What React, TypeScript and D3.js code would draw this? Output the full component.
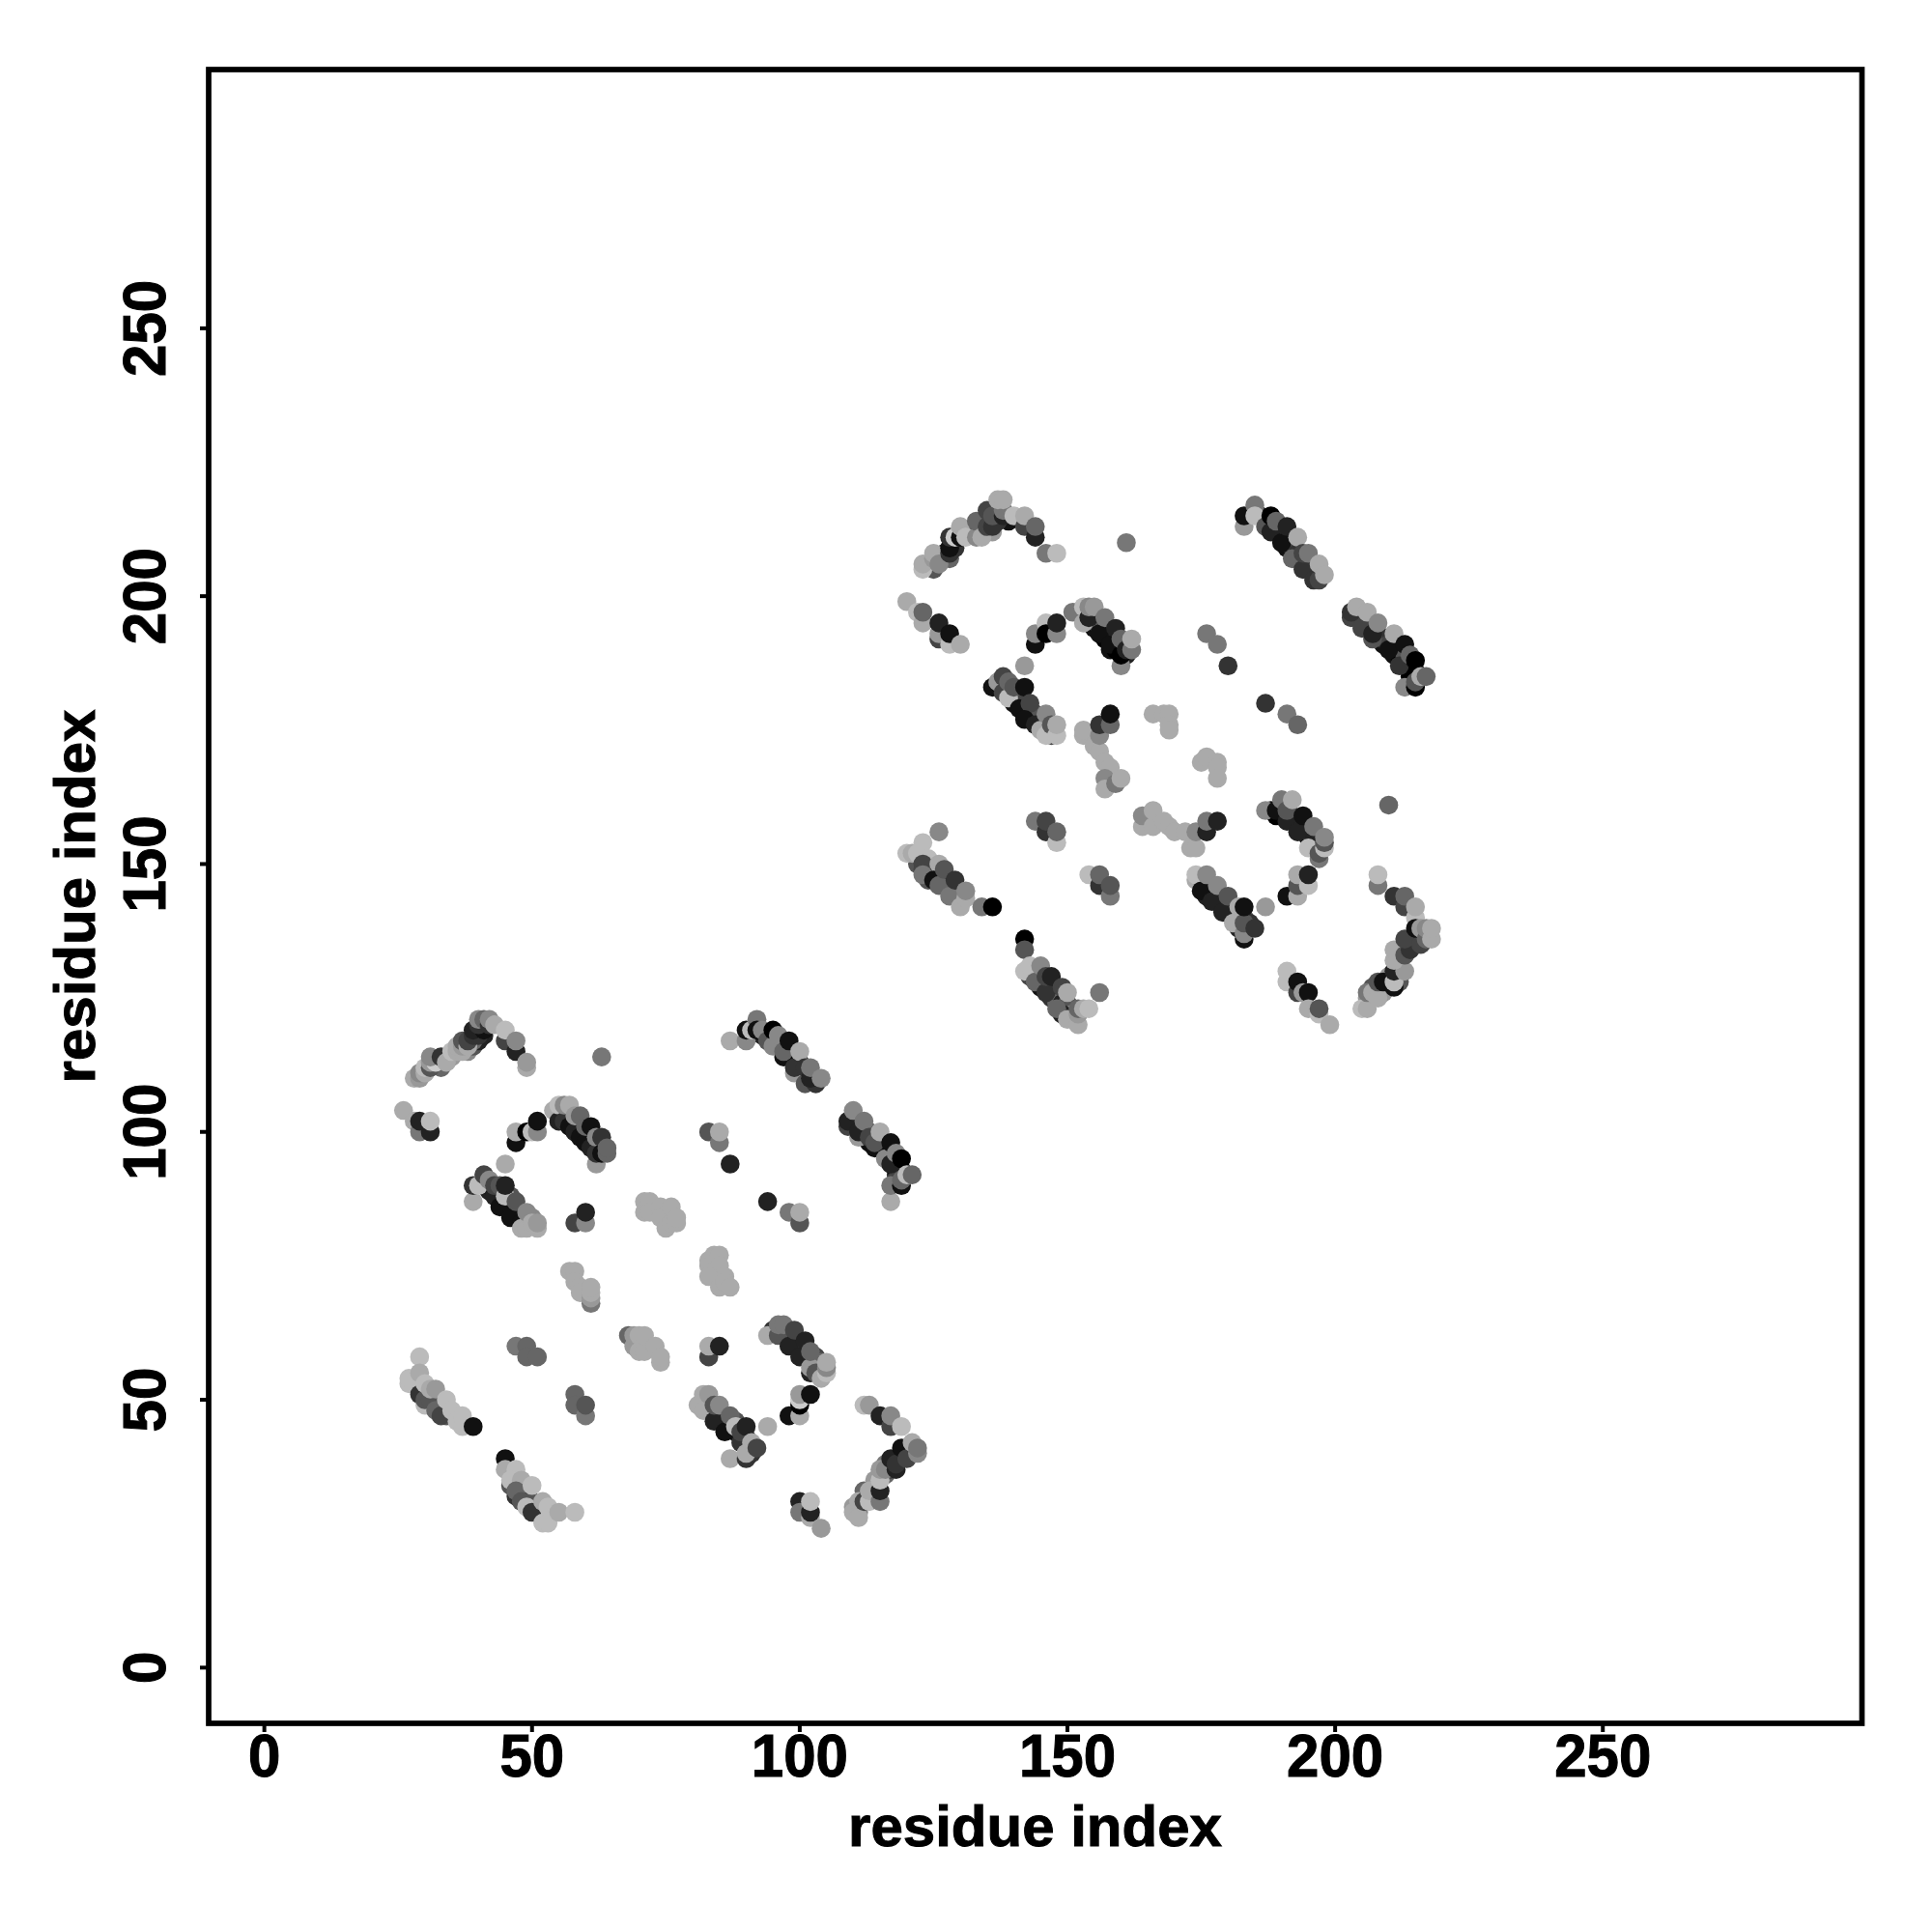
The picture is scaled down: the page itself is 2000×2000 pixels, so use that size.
import React from 'react';
import * as d3 from 'd3';

// [residue i, residue j, shade level (0 = black .. 15 = white)]
type P = [number, number, number];

// lower layer: contacts along the strand diagonals, later contacts overlap them
const underA1: P[] = [[56,103,3],[57,102,2],[58,101,1],[59,100,1],[60,99,0],[61,98,0],[62,97,1],[63,97,3],[58,102,5],[60,100,5],[62,98,4]];
const underA2: P[] = [[41,90,3],[42,89,2],[43,89,1],[44,88,1],[45,87,0],[46,86,0],[47,85,0],[48,84,0],[49,83,1],[44,89,4],[46,88,5],[46,87,3],[48,85,4],[49,84,5],[50,84,8]];
const underA3: P[] = [[93,118,2],[94,118,1],[95,117,1],[96,116,0],[97,116,1],[98,114,0],[99,113,0],[100,112,1],[100,113,4],[101,111,2],[102,111,3],[103,110,2],[96,117,5],[98,115,5]];
const underA4: P[] = [[110,102,2],[110,101,3],[111,101,4],[112,100,1],[113,100,5],[113,98,1],[114,99,3],[115,97,1],[115,98,3],[116,96,0],[117,95,0],[116,97,5],[118,94,1],[118,92,3],[118,93,1],[119,93,2],[118,91,4]];
const underA5: P[] = [[30,51,4],[31,49,2],[31,51,6],[32,50,5],[32,49,4],[33,49,5],[33,48,6],[34,47,5]];
const underA6: P[] = [[46,34,5],[47,34,4],[47,32,3],[48,33,5],[49,32,4],[49,31,3],[50,30,3],[50,31,5]];
const underA7: P[] = [[95,63,3],[97,62,2],[97,63,6],[98,62,5],[99,60,1],[99,61,3],[100,60,4],[101,59,1],[102,58,1],[101,60,5],[103,57,2],[103,58,4],[104,56,3],[104,57,6]];
const underA8: P[] = [[82,50,4],[83,49,3],[83,50,5],[84,48,1],[85,47,1],[85,48,6],[86,46,1],[87,45,1],[86,47,4],[88,44,1],[89,43,1],[88,46,5],[90,42,2],[90,43,3],[91,41,1],[91,40,3],[89,42,3]];
const underArcA: P[] = [[33,112,6],[35,114,9],[38,115,8],[39,116,5],[40,117,2],[41,118,2],[41,120,1],[39,117,6],[40,119,3]];
const underHookA: P[] = [[116,36,6],[117,37,4],[118,39,3],[119,39,2],[120,40,3],[120,41,2],[114,34,10],[114,35,9],[112,32,6],[112,33,6],[113,32,8],[116,38,7],[117,38,3],[110,30,9],[111,30,7],[111,29,8]];
const underB1: P[] = [[152,197,4],[153,196,3],[154,195,2],[155,194,1],[156,194,5],[157,192,0],[158,192,5],[158,190,1],[159,190,0],[159,191,1],[160,190,3],[155,196,5],[161,189,2]];
const underB2: P[] = [[137,183,4],[138,183,3],[139,182,2],[140,181,2],[140,180,1],[141,181,5],[142,179,1],[142,178,0],[143,178,1],[143,177,2],[144,177,3],[144,178,5],[145,176,1],[146,176,5],[146,175,3],[147,174,4],[141,182,4]];
const underB3: P[] = [[186,215,3],[187,214,2],[188,214,1],[189,212,1],[189,213,3],[190,212,5],[191,210,0],[191,209,1],[192,209,2],[192,210,4],[193,208,3],[193,207,1],[194,207,4],[195,206,2],[195,205,3],[196,205,4],[196,204,3],[197,204,4]];
const underB4: P[] = [[204,196,3],[204,197,4],[205,195,2],[205,196,5],[206,195,3],[206,194,4],[207,194,6],[208,192,1],[208,193,2],[209,191,1],[209,192,3],[210,191,4],[211,189,1],[211,190,0],[212,189,0],[213,188,2],[213,189,5],[214,186,0],[214,187,1],[215,186,3],[214,185,0],[215,185,0]];
const underB5: P[] = [[122,150,5],[123,149,4],[124,149,6],[124,147,5],[125,148,1],[126,148,4],[126,147,2],[127,146,4],[128,146,1],[128,145,5],[129,145,4],[129,146,6]];
const underB6: P[] = [[143,129,4],[144,129,2],[145,128,3],[145,127,1],[146,127,0],[147,127,3],[147,125,3],[147,126,1],[148,125,1],[148,124,6],[149,124,2],[150,123,3],[150,124,5],[151,122,8]];
const underB7: P[] = [[175,146,3],[176,145,1],[176,144,2],[177,145,4],[178,143,1],[178,144,1],[179,142,1],[180,142,1],[180,141,2],[181,141,1],[182,140,1],[182,139,0],[183,140,5],[184,138,0],[184,139,3],[182,138,2],[181,140,4]];
const underB8: P[] = [[188,160,1],[189,159,0],[190,159,0],[190,160,3],[191,159,1],[192,158,0],[192,159,5],[193,157,1],[193,158,4],[194,156,1],[194,157,5],[195,155,1],[195,156,4],[196,155,2],[197,154,3],[197,155,5],[197,153,6],[196,153,9]];
const underArcB: P[] = [[124,206,5],[125,205,5],[126,207,4],[127,208,2],[127,207,5],[128,207,6],[129,209,3],[132,212,6],[133,212,5],[134,213,7],[134,214,4],[135,214,3],[136,214,2],[137,215,3],[137,216,4],[139,214,1],[135,212,8],[136,212,9],[137,214,3]];
const underHookB: P[] = [[212,131,3],[212,132,6],[212,134,4],[213,134,3],[214,136,2],[214,135,4],[215,135,3],[215,136,3],[216,137,5],[215,137,1],[209,127,7],[210,127,3],[210,128,2],[210,129,9],[212,129,8],[207,125,8],[207,127,5],[206,125,9],[208,126,8],[209,126,9],[212,128,5],[212,130,9]];

const arcA: P[] = [[28,110,10],[29,110,9],[29,111,8],[30,111,10],[30,112,11],[31,112,5],[31,113,9],[32,113,12],[31,114,8],[33,114,3],[34,113,10],[35,115,11],[36,115,10],[37,115,10],[36,116,10],[37,116,9],[37,117,5],[38,116,10],[38,117,4],[39,118,3],[40,118,3],[39,119,2],[41,119,1],[40,120,3],[40,121,8],[41,121,6],[42,120,3],[42,121,8],[43,120,10],[45,117,4],[45,119,11],[47,115,2],[47,117,8],[49,112,10],[49,113,9],[63,114,7]];
const nodeA: P[] = [[26,104,10],[28,102,10],[29,100,7],[31,100,2],[29,102,2],[31,102,11],[47,98,1],[47,100,10],[49,100,0],[50,100,11],[51,100,8],[51,102,1]];
const strandA1: P[] = [[54,104,10],[55,102,2],[55,105,11],[56,102,3],[56,105,8],[57,101,1],[57,105,10],[58,100,2],[58,103,9],[59,99,1],[59,103,6],[60,98,1],[60,101,6],[61,97,2],[61,101,1],[62,94,9],[62,96,3],[62,99,8],[63,96,1],[63,99,3],[64,96,6],[64,97,6]];
const strandA2: P[] = [[45,94,10],[39,87,10],[39,90,3],[40,90,11],[41,92,4],[42,91,8],[43,88,2],[43,90,4],[44,86,1],[44,90,5],[45,88,11],[45,90,2],[46,84,1],[47,87,5],[48,83,1],[48,82,10],[49,82,10],[49,85,8],[50,83,10],[51,82,10],[51,83,9],[58,83,4],[60,83,8],[60,85,2]];
const lightA: P[] = [[71,85,10],[71,87,10],[72,87,10],[72,85,10],[74,86,10],[74,84,10],[75,82,10],[76,86,10],[76,83,10],[77,83,10],[77,84,10],[83,75,10],[83,76,10],[84,77,10],[85,77,10],[85,75,10],[86,73,10],[83,73,10],[85,71,10],[86,72,10],[87,71,10],[57,74,10],[58,74,10],[58,72,10],[59,71,10],[59,70,10],[61,68,7],[61,69,9],[61,70,10],[61,71,10]];
const strandA3: P[] = [[87,117,10],[90,117,8],[90,119,1],[91,119,11],[92,121,7],[92,119,1],[93,119,8],[94,117,5],[95,116,8],[95,119,0],[96,118,8],[97,114,1],[97,115,6],[98,117,1],[99,111,9],[99,112,3],[100,115,10],[101,109,5],[101,112,3],[103,109,3],[102,110,2],[102,112,7],[104,110,8]];
const strandA4: P[] = [[109,101,4],[109,102,2],[110,104,8],[111,99,9],[111,100,2],[112,102,7],[113,99,4],[114,97,1],[114,98,5],[115,100,10],[116,95,8],[117,94,2],[117,98,1],[118,96,8],[117,87,10],[117,90,7],[119,90,1],[119,91,6],[119,95,0],[120,92,11],[121,92,6]];
const pairsA: P[] = [[83,100,5],[85,98,7],[85,100,10],[87,94,2],[94,87,2],[98,85,7],[100,83,5],[100,85,10]];
const blobsA: P[] = [[47,60,7],[49,60,6],[49,58,6],[51,58,6],[58,51,6],[58,49,6],[60,47,7],[60,49,5],[68,62,6],[69,60,9],[69,62,9],[70,59,10],[70,62,10],[71,59,10],[71,62,10],[73,60,10],[74,57,10],[74,58,10],[83,58,4],[83,60,10],[85,60,2]];
const strandA5: P[] = [[29,58,11],[27,53,11],[27,54,11],[29,51,3],[29,55,10],[30,49,11],[30,50,5],[31,50,5],[30,53,11],[31,52,10],[32,48,6],[32,52,9],[33,47,4],[34,50,11],[35,48,11],[36,46,11],[37,45,11],[37,47,11],[39,45,1]];
const strandA6: P[] = [[45,39,1],[45,37,10],[47,37,11],[46,35,11],[48,35,10],[47,33,6],[48,31,5],[50,34,11],[49,30,11],[50,29,3],[52,31,10],[52,27,11],[53,27,11],[53,30,11],[55,29,10],[58,29,11]];
const strandA7: P[] = [[94,62,10],[96,62,5],[96,64,7],[97,64,7],[98,60,2],[99,63,4],[100,58,2],[101,61,2],[102,55,2],[102,56,9],[103,55,5],[104,54,10],[102,59,6],[105,55,11],[105,56,8],[105,57,10],[98,47,1],[100,47,10],[100,49,0],[100,50,12],[100,51,9],[102,51,1]];
const strandA8: P[] = [[81,49,10],[82,48,10],[82,51,10],[83,51,9],[84,46,2],[84,49,5],[85,49,8],[86,44,1],[87,47,6],[87,39,10],[88,45,11],[89,44,4],[90,45,2],[90,39,3],[90,40,10],[91,42,10],[92,41,4],[94,45,10]];
const hookA: P[] = [[100,31,2],[100,29,7],[102,28,10],[102,29,2],[102,31,11],[104,26,9],[112,49,11],[113,49,9],[115,47,2],[117,45,4],[117,47,8],[119,45,11],[110,29,10],[111,28,10],[111,31,10],[112,31,4],[113,31,11],[113,33,10],[115,31,7],[115,33,2],[115,35,11],[115,37,9],[116,37,8],[117,39,2],[118,37,2],[118,38,3],[119,41,1],[120,39,4],[121,42,10],[122,40,8],[122,41,7]];

const arcB: P[] = [[123,205,11],[123,206,10],[125,207,9],[125,208,10],[126,206,8],[128,208,3],[128,209,1],[128,211,3],[129,211,12],[130,211,1],[130,213,10],[131,211,11],[133,211,8],[133,214,6],[134,211,10],[135,213,4],[136,213,3],[135,216,4],[136,215,5],[138,215,2],[138,216,7],[137,218,10],[138,218,10],[140,215,11],[142,213,4],[142,215,10],[144,211,2],[144,213,6],[146,208,7],[148,208,11],[161,210,7]];
const nodeB: P[] = [[120,199,10],[122,197,11],[123,195,10],[123,197,6],[126,192,4],[126,193,9],[126,195,2],[128,191,11],[128,193,1],[130,191,10],[144,191,1],[144,193,8],[146,195,11],[146,193,0],[148,193,8],[148,195,2]];
const strandB1: P[] = [[151,197,7],[153,195,10],[153,198,11],[154,196,2],[154,198,8],[155,198,9],[156,193,1],[157,196,7],[158,191,1],[159,194,2],[160,187,8],[160,189,0],[160,192,6],[161,190,2],[162,190,7],[162,192,10]];
const strandB2: P[] = [[142,187,9],[136,183,1],[137,184,9],[138,182,4],[138,185,4],[139,181,11],[139,184,6],[140,183,5],[141,179,1],[142,183,1],[143,180,4],[142,177,1],[144,176,2],[145,175,10],[146,174,11],[146,178,8],[147,176,5],[148,174,11],[148,176,10]];
const lightB: P[] = [[153,174,10],[153,175,10],[155,172,10],[156,171,10],[157,169,10],[158,168,10],[156,174,8],[156,176,3],[158,176,6],[158,178,1],[157,166,8],[157,164,10],[159,165,7],[160,166,10],[166,178,10],[168,178,10],[169,178,10],[169,176,10],[169,175,10],[175,169,10],[176,170,10],[178,169,10],[178,168,10],[178,166,10]];
const strandB3: P[] = [[183,213,9],[183,215,1],[185,217,7],[185,215,11],[187,213,5],[188,212,2],[188,215,0],[189,214,6],[190,210,1],[191,213,2],[193,211,10],[192,207,6],[194,205,3],[194,208,4],[195,208,7],[196,203,3],[197,203,4],[197,206,10],[198,204,10]];
const strandB4: P[] = [[203,196,4],[203,197,3],[204,198,10],[205,194,4],[206,197,10],[207,192,5],[207,193,2],[208,195,8],[210,190,1],[211,193,10],[212,187,3],[213,191,1],[214,189,6],[213,183,8],[215,183,0],[215,184,5],[215,188,0],[216,185,10],[217,185,6]];
const pairsB: P[] = [[176,193,7],[178,191,7],[180,187,3],[187,180,3],[191,178,7],[193,176,6]];
const strandB5: P[] = [[126,156,8],[120,152,11],[121,152,10],[122,152,11],[123,154,11],[124,151,11],[123,150,4],[123,148,7],[126,150,10],[125,147,1],[126,146,6],[127,149,5],[128,144,7],[129,147,3],[130,142,10],[131,143.6,10],[131,145,8],[134,142,7],[136,142,0]];
const strandB6: P[] = [[142,136,0],[142,134,5],[142,130,11],[143,131,11],[144,128,6],[145,131,8],[146,126,3],[146,129,4],[147,129,2],[149,122,2],[148,123,6],[149,127,4],[150,121,10],[150,126,10],[152,120,10],[152,122,9],[152,123,6],[153,123,10],[154,123,11],[156,126,7]];
const blobsB: P[] = [[144,158,7],[146,156,3],[146,158,4],[148,154,11],[148,156,6],[154,148,11],[156,146,3],[156,148,6],[158,144,7],[158,146,5],[164,157,10],[164,159,8],[166,157,10],[166,160,10],[168,158,10],[169,157,10],[170,156,10],[172,156,10],[173,153,10],[174,153,10],[174,156,8],[176,156,2],[176,158,7],[178,158,2]];
const strandB7: P[] = [[174,147,10],[174,148,11],[175,145,1],[176,148,8],[177,143,2],[178,146,8],[179,141,2],[180,144,5],[181,139,10],[182,142,10],[183,136,1],[183,137,8],[183,139,5],[183,142,1],[185,138,3],[187,142,9]];
const strandB8: P[] = [[187,160,8],[189,160,1],[190,162,7],[191,158,2],[191,160,5],[192,162,10],[193,156,2],[194,159,1],[196,154,2],[196,157,7],[195,153,11],[197,151,7],[197,152,5],[198,153,11],[198,154,5],[198,155,8],[191,144,1],[193,144,10],[193,146,5],[193,148,10],[195,146,11],[195,148,2]];
const hookB: P[] = [[191,128,11],[191,130,11],[193,126,4],[193,128,1],[194,126,9],[195,126,1],[195,123,10],[197,122,11],[197,123,5],[199,120,10],[210,161,6],[208,146,7],[208,148,11],[211,144,3],[213,142,4],[213,144,6],[215,140,11],[215,142,10],[205,123,11],[206,123,10],[206,126,7],[207,126,10],[208,125,10],[208,128,5],[209,128,1],[211,127,1],[211,128,11],[211,130,2],[213,130,9],[211,132,10],[211,134,10],[213,133,5],[214,134,3],[213,136,4],[216,135,4],[215,138,1],[216,138,9],[217,136,6],[217,138,8],[218,136,10],[218,138,10]];

const groups: P[][] = [underA1,underA2,underA3,underA4,underA5,underA6,underA7,underA8,underArcA,underHookA,underB1,underB2,underB3,underB4,underB5,underB6,underB7,underB8,underArcB,underHookB,arcA,nodeA,strandA1,strandA2,lightA,strandA3,strandA4,pairsA,blobsA,strandA5,strandA6,strandA7,strandA8,hookA,arcB,nodeB,strandB1,strandB2,lightB,strandB3,strandB4,pairsB,strandB5,strandB6,blobsB,strandB7,strandB8,hookB];
const ticks = [0, 50, 100, 150, 200, 250];
const axisTitle = 'residue index';

const x = d3.scaleLinear().domain([-10.4, 298.4]).range([216, 1927.5]);
const y = d3.scaleLinear().domain([-10.4, 298.3]).range([1784, 72]);
const shade = d3.scaleLinear<string>().domain([0, 15]).range(['#000000', '#ffffff']);
const font = '"Liberation Sans", Arial, sans-serif';
const label = { fontFamily: font, fontWeight: 'bold' as const, fontSize: 60, stroke: '#000', strokeWidth: 1 };

export default function App() {
  return (
    <svg width={2000} height={2000} style={{ position: 'absolute', left: 0, top: 0, background: '#fff' }}>
      {groups.flat().map((p, i) => (
        <circle key={i} cx={x(p[0])} cy={y(p[1])} r={9.8} fill={shade(p[2])} />
      ))}
      <rect x={216} y={72} width={1711.5} height={1712} fill="none" stroke="#000" strokeWidth={5.7} />
      {ticks.map(t => (
        <g key={t}>
          <line x1={x(t)} x2={x(t)} y1={1784} y2={1793} stroke="#000" strokeWidth={4} />
          <line y1={y(t)} y2={y(t)} x1={216} x2={207} stroke="#000" strokeWidth={4} />
          <text transform={`translate(${x(t)},1839) scale(1,1.05)`} textAnchor="middle" {...label}>{t}</text>
          <text transform={`translate(171,${y(t)}) rotate(-90) scale(1,1.05)`} textAnchor="middle" {...label}>{t}</text>
        </g>
      ))}
      <text x={1071.5} y={1911} textAnchor="middle" {...label}>{axisTitle}</text>
      <text transform="translate(98,928) rotate(-90)" textAnchor="middle" {...label}>{axisTitle}</text>
    </svg>
  );
}
